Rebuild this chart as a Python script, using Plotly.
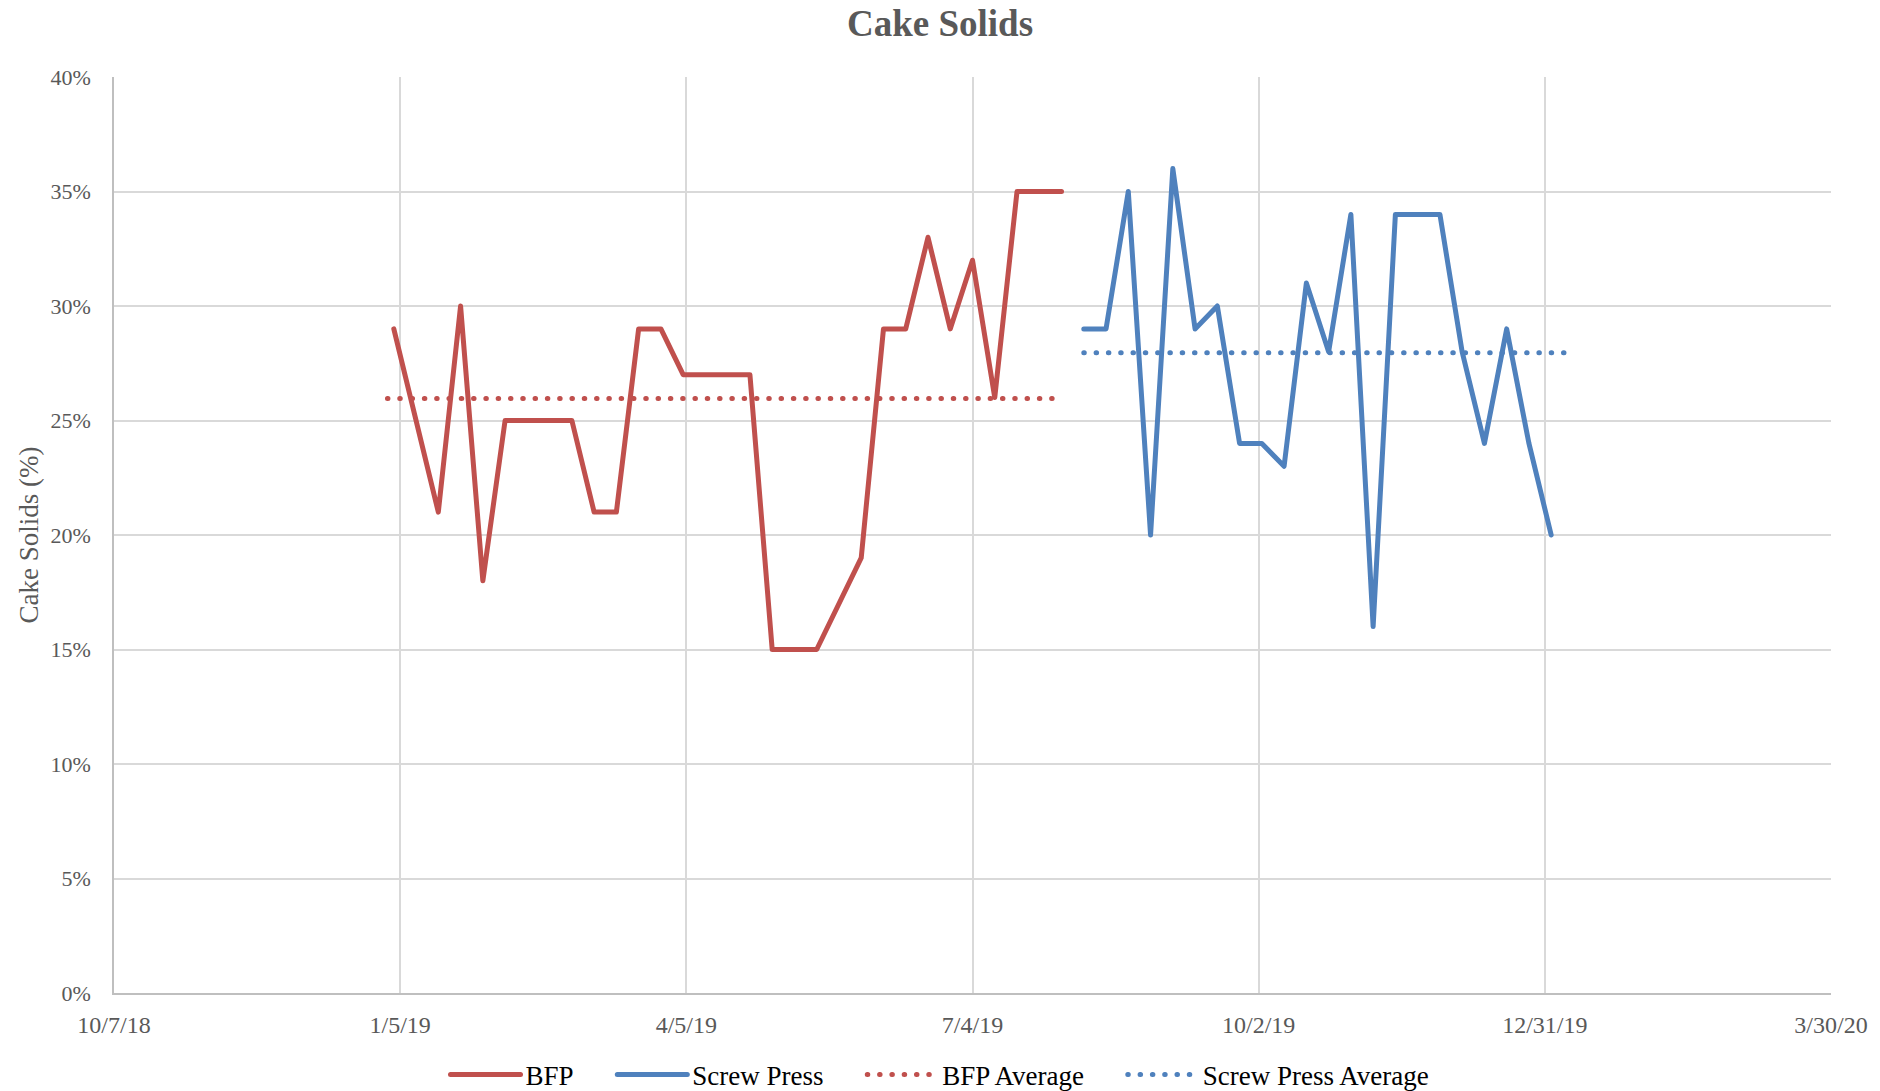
import numpy as np
import plotly.graph_objects as go

# Weekly cake solids readings (%), belt filter press then screw press
bfp_dates = [
    "2019-01-03", "2019-01-10", "2019-01-17", "2019-01-24", "2019-01-31",
    "2019-02-07", "2019-02-14", "2019-02-21", "2019-02-28", "2019-03-07",
    "2019-03-14", "2019-03-21", "2019-03-28", "2019-04-04", "2019-04-11",
    "2019-04-18", "2019-04-25", "2019-05-02", "2019-05-09", "2019-05-16",
    "2019-05-23", "2019-05-30", "2019-06-06", "2019-06-13", "2019-06-20",
    "2019-06-27", "2019-07-04", "2019-07-11", "2019-07-18", "2019-07-25",
    "2019-08-01",
]
bfp_solids = [
    29, None, 21, 30, 18, 25, 25, 25, 25, 21,
    21, 29, 29, 27, 27, 27, 27, 15, 15, 15,
    None, 19, 29, 29, 33, 29, 32, 26, 35, 35,
    35,
]

sp_dates = [
    "2019-08-08", "2019-08-15", "2019-08-22", "2019-08-29", "2019-09-05",
    "2019-09-12", "2019-09-19", "2019-09-26", "2019-10-03", "2019-10-10",
    "2019-10-17", "2019-10-24", "2019-10-31", "2019-11-07", "2019-11-14",
    "2019-11-21", "2019-11-28", "2019-12-05", "2019-12-12", "2019-12-19",
    "2019-12-26", "2020-01-02",
]
sp_solids = [
    29, 29, 35, 20, 36, 29, 30, 24, 24, 23,
    31, 28, 34, 16, 34, 34, 34, 28, 24, 29,
    24, 20,
]

# Period covered by each average line
bfp_avg_dates = ["2019-01-01", "2019-08-01"]
sp_avg_dates = ["2019-08-08", "2020-01-08"]

x_range = ["2018-10-07", "2020-03-30"]
tick_step_days = 90

RED = "#C0504D"
BLUE = "#4F81BD"
GREY_TEXT = "#595959"
GRID = "#D9D9D9"
SERIF = "Liberation Serif, Times New Roman, serif"

bfp_frac = [v / 100 if v is not None else None for v in bfp_solids]
sp_frac = [v / 100 for v in sp_solids]
bfp_avg = np.mean([v for v in bfp_solids if v is not None]) / 100
sp_avg = np.mean(sp_solids) / 100

DOT = "0.5px,11.8px"
LW = 5
PAD = "\u00a0" * 5  # spacing between legend entries

fig = go.Figure()
fig.add_trace(go.Scatter(
    x=bfp_dates, y=bfp_frac, name="BFP" + PAD, mode="lines", connectgaps=True,
    line=dict(color=RED, width=LW),
))
fig.add_trace(go.Scatter(
    x=sp_dates, y=sp_frac, name="Screw Press" + PAD, mode="lines",
    line=dict(color=BLUE, width=LW),
))
fig.add_trace(go.Scatter(
    x=bfp_avg_dates, y=[bfp_avg, bfp_avg], name="BFP Average" + PAD, mode="lines",
    line=dict(color=RED, width=LW, dash=DOT),
))
fig.add_trace(go.Scatter(
    x=sp_avg_dates, y=[sp_avg, sp_avg], name="Screw Press Average", mode="lines",
    line=dict(color=BLUE, width=LW, dash=DOT),
))

fig.update_layout(
    width=1880, height=1091,
    margin=dict(l=114, r=49, t=77, b=98),
    paper_bgcolor="white", plot_bgcolor="white",
    font=dict(family=SERIF, color=GREY_TEXT),
    title=dict(
        text="<b>Cake Solids</b>", font=dict(size=37, color=GREY_TEXT, family=SERIF),
        x=0.5, xref="container", xanchor="center",
        y=1 - 23 / 1091, yref="container", yanchor="middle",
    ),
    showlegend=True,
    legend=dict(
        orientation="h", x=0.5, xref="container", xanchor="center",
        y=1 - 1075 / 1091, yref="container", yanchor="middle",
        font=dict(size=27, color="black", family=SERIF),
        itemwidth=70, tracegroupgap=0,
    ),
)

fig.update_xaxes(
    type="date", range=x_range, automargin=False,
    tick0=x_range[0], dtick=tick_step_days * 86400000,
    tickformat="%-m/%-d/%y",
    showgrid=True, gridcolor=GRID, gridwidth=1.5,
    showline=True, linecolor="#BFBFBF", linewidth=1.5,
    zeroline=False, ticks="",
    tickfont=dict(size=24, color=GREY_TEXT, family=SERIF),
    ticklabelstandoff=9,
)
fig.update_yaxes(
    range=[0, 0.40], dtick=0.05, tick0=0, tickformat=".0%", automargin=False,
    showgrid=True, gridcolor=GRID, gridwidth=1.5,
    showline=True, linecolor="#BFBFBF", linewidth=1.5,
    zeroline=False, ticks="",
    tickfont=dict(size=22, color=GREY_TEXT, family=SERIF),
    ticklabelstandoff=17,
    title=dict(text="Cake Solids (%)", font=dict(size=27, color=GREY_TEXT, family=SERIF),
               standoff=4),
)

# Round caps and joins so the dotted averages render as round dots
post = """
var gd = document.getElementById('{plot_id}');
function roundLines(){
  gd.querySelectorAll('.scatterlayer .js-line, .legendlines path').forEach(function(p){
    p.style.strokeLinecap = 'round';
    p.style.strokeLinejoin = 'round';
  });
}
roundLines();
gd.on('plotly_afterplot', roundLines);
"""

fig.write_html("out.html", post_script=post)
